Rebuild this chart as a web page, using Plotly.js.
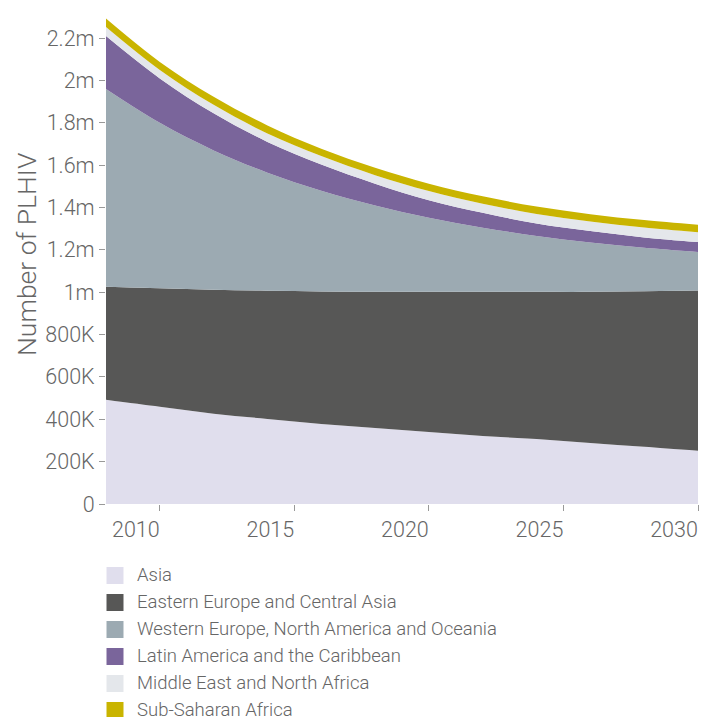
<!DOCTYPE html>
<html>
<head>
<meta charset="utf-8">
<script src="https://cdn.plot.ly/plotly-3.0.1.min.js"></script>
<style>html,body{margin:0;padding:0;background:#fff;}#chart{width:708px;height:717px;}</style>
</head>
<body>
<div id="chart"></div>
<script>
var years = [2008, 2010, 2012, 2014, 2016, 2018, 2020, 2022, 2024, 2026, 2028, 2030];
var asia  = [492000, 459000, 426000, 402000, 378000, 359000, 340000, 321000, 307000, 288000, 270000, 251000];
var eeca  = [534000, 560000, 586000, 605000, 626000, 643000, 662000, 681000, 695000, 714000, 735000, 757000];
var wenao = [934000, 781000, 658000, 558000, 476000, 408000, 350000, 303000, 264000, 233000, 205000, 182000];
var lac   = [250000, 210000, 175000, 145000, 123000, 103000, 83000, 70000, 59000, 54000, 49000, 47000];
var mena  = [43000, 40000, 40000, 40000, 40000, 40000, 43000, 43000, 45000, 45000, 47000, 47000];
var ssa   = [40000, 38000, 38000, 38000, 35000, 35000, 35000, 35000, 35000, 35000, 35000, 35000];

var seriesNames = ["Asia", "Eastern Europe and Central Asia", "Western Europe, North America and Oceania",
                   "Latin America and the Caribbean", "Middle East and North Africa", "Sub-Saharan Africa"];
var seriesValues = [asia, eeca, wenao, lac, mena, ssa];
var colors = ["#e0deed", "#575756", "#9caab2", "#7a659b", "#e4e7eb", "#c9b400"];

var yTickVals = [0, 200000, 400000, 600000, 800000, 1000000, 1200000, 1400000, 1600000, 1800000, 2000000, 2200000];
var yTickText = ["0", "200K", "400K", "600K", "800K", "1m", "1.2m", "1.4m", "1.6m", "1.8m", "2m", "2.2m"];
var xTickVals = [2010, 2015, 2020, 2025, 2030];
var yTitle = "Number of PLHIV";

var W = 708, H = 717;
var margin = {l: 106, r: 10, t: 17, b: 213};
var FONT = "Roboto, 'Liberation Sans', Arial, sans-serif";
var TXT = "#666666";

var traces = seriesValues.map(function (vals, i) {
  return {
    x: years, y: vals, name: seriesNames[i],
    type: "scatter", mode: "lines", stackgroup: "one",
    line: {width: 0, shape: "spline", smoothing: 1, color: colors[i]},
    fillcolor: colors[i], showlegend: false, hoverinfo: "x+y+name"
  };
});

var plotH = H - margin.t - margin.b, plotW = W - margin.l - margin.r;
function px2paperX(px) { return (px - margin.l) / plotW; }
function px2paperY(py) { return (H - margin.b - py) / plotH; }
var shapes = [], annotations = [];
seriesNames.forEach(function (n, i) {
  var cy = 575.5 + i * 27;
  shapes.push({type: "rect", xref: "paper", yref: "paper",
    x0: px2paperX(106.5), x1: px2paperX(123.5), y0: px2paperY(cy - 8.5), y1: px2paperY(cy + 8.5),
    fillcolor: colors[i], line: {width: 0}});
  annotations.push({xref: "paper", yref: "paper", x: px2paperX(135), y: px2paperY(cy - 0.5),
    xanchor: "left", yanchor: "middle", showarrow: false, text: n,
    font: {family: FONT, size: 18.5, color: TXT, weight: 300}});
});
annotations.push({xref: "paper", yref: "paper", x: px2paperX(26), y: px2paperY(255),
  xanchor: "center", yanchor: "middle", showarrow: false, text: yTitle, textangle: -90,
  font: {family: FONT, size: 26.5, color: TXT, weight: 300}});

var layout = {
  width: W, height: H, margin: margin,
  paper_bgcolor: "#ffffff", plot_bgcolor: "#ffffff",
  showlegend: false,
  font: {family: FONT, color: TXT, size: 21, weight: 300},
  xaxis: {range: [2008, 2030], tickvals: xTickVals, ticktext: xTickVals.map(String),
    ticks: "outside", ticklen: 6, tickcolor: "#999999", tickwidth: 1,
    showgrid: false, zeroline: false, showline: false, ticklabelshift: -24,
    tickfont: {family: FONT, size: 21.5, color: TXT, weight: 300}, fixedrange: true},
  yaxis: {range: [0, 2300000], tickvals: yTickVals, ticktext: yTickText,
    ticks: "outside", ticklen: 6, tickcolor: "#999999", tickwidth: 1,
    showgrid: false, zeroline: false, showline: false,
    tickfont: {family: FONT, size: 21.5, color: TXT, weight: 300},
    fixedrange: true},
  shapes: shapes, annotations: annotations
};

Plotly.newPlot("chart", traces, layout, {displayModeBar: false, staticPlot: true});
</script>
</body>
</html>
